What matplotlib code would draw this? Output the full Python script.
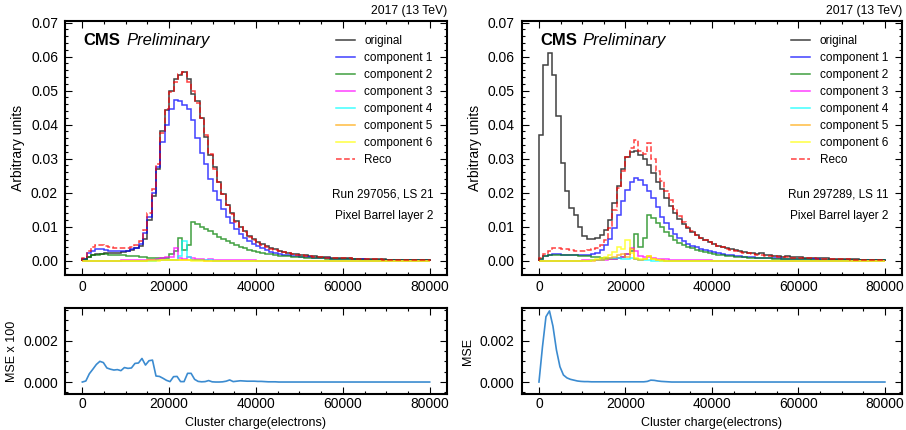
import numpy as np
import matplotlib
matplotlib.use('Agg')
import matplotlib.pyplot as plt
from matplotlib.ticker import AutoMinorLocator, MultipleLocator

plt.rcParams['font.family'] = ['Liberation Sans', 'DejaVu Sans']

# ---- data: 80 bins of 1000 electrons ----
edges = np.arange(0, 80001, 1000)
labels = ['original', 'component 1', 'component 2', 'component 3',
          'component 4', 'component 5', 'component 6', 'Reco']

# Run 297056, LS 21
orig_L = [0.0004, 0.0012, 0.0017, 0.0020, 0.0021, 0.0022, 0.0022, 0.0022, 0.0023, 0.0025,
          0.0028, 0.0032, 0.0036, 0.0042, 0.0065, 0.0120, 0.0190, 0.0270, 0.0380, 0.0443,
          0.0500, 0.0535, 0.0545, 0.0556, 0.0535, 0.0490, 0.0470, 0.0420, 0.0365, 0.0310,
          0.0275, 0.0230, 0.0195, 0.0165, 0.0140, 0.0118, 0.0100, 0.0086, 0.0074, 0.0064,
          0.0055, 0.0048, 0.0042, 0.0037, 0.0033, 0.0029, 0.0026, 0.0023, 0.0021, 0.0019,
          0.0017, 0.0016, 0.0014, 0.0013, 0.0012, 0.0011, 0.0010, 0.0009, 0.0009, 0.0008,
          0.0009, 0.0007, 0.0006, 0.0006, 0.0005, 0.0005, 0.0005, 0.0004, 0.0004, 0.0004,
          0.0003, 0.0003, 0.0003, 0.0003, 0.0003, 0.0002, 0.0002, 0.0002, 0.0002, 0.0002]
comp1_L = [0.0006, 0.0022, 0.0030, 0.0034, 0.0034, 0.0032, 0.0030, 0.0029, 0.0029, 0.0029,
           0.0030, 0.0033, 0.0038, 0.0050, 0.0082, 0.0130, 0.0200, 0.0275, 0.0350, 0.0400,
           0.0445, 0.0472, 0.0470, 0.0458, 0.0445, 0.0415, 0.0360, 0.0318, 0.0285, 0.0240,
           0.0205, 0.0178, 0.0153, 0.0130, 0.0110, 0.0093, 0.0079, 0.0067, 0.0057, 0.0049,
           0.0042, 0.0036, 0.0031, 0.0027, 0.0024, 0.0021, 0.0018, 0.0016, 0.0014, 0.0013,
           0.0012, 0.0011, 0.0010, 0.0009, 0.0008, 0.0008, 0.0007, 0.0006, 0.0006, 0.0005,
           0.0005, 0.0005, 0.0004, 0.0004, 0.0004, 0.0003, 0.0003, 0.0003, 0.0003, 0.0002,
           0.0002, 0.0002, 0.0002, 0.0002, 0.0002, 0.0002, 0.0001, 0.0001, 0.0001, 0.0001]
comp2_L = [0.0003, 0.0012, 0.0016, 0.0018, 0.0019, 0.0019, 0.0018, 0.0018, 0.0017, 0.0016,
           0.0015, 0.0014, 0.0013, 0.0011, 0.0010, 0.0009, 0.0008, 0.0007, 0.0007, 0.0008,
           0.0020, 0.0030, 0.0066, 0.0032, 0.0045, 0.0115, 0.0108, 0.0100, 0.0093, 0.0086,
           0.0078, 0.0071, 0.0064, 0.0057, 0.0051, 0.0045, 0.0040, 0.0036, 0.0032, 0.0029,
           0.0026, 0.0023, 0.0021, 0.0019, 0.0017, 0.0015, 0.0014, 0.0013, 0.0012, 0.0011,
           0.0010, 0.0009, 0.0009, 0.0008, 0.0007, 0.0007, 0.0006, 0.0006, 0.0005, 0.0005,
           0.0005, 0.0004, 0.0004, 0.0004, 0.0003, 0.0003, 0.0003, 0.0003, 0.0002, 0.0002,
           0.0002, 0.0002, 0.0002, 0.0002, 0.0002, 0.0001, 0.0001, 0.0001, 0.0001, 0.0001]
comp3_L = [0.0000, 0.0000, 0.0000, 0.0000, 0.0000, 0.0000, 0.0000, 0.0000, 0.0000, 0.0001,
           0.0001, 0.0002, 0.0002, 0.0001, 0.0001, 0.0002, 0.0003, 0.0005, 0.0008, 0.0012,
           0.0010, 0.0038, 0.0008, 0.0004, 0.0010, 0.0009, 0.0006, 0.0004, 0.0003, 0.0004,
           0.0003, 0.0002, 0.0002, 0.0002, 0.0001, 0.0001, 0.0001, 0.0001, 0.0001, 0.0001,
           0.0000, 0.0000, 0.0000, 0.0000, 0.0000, 0.0000, 0.0000, 0.0000, 0.0000, 0.0000,
           0.0000, 0.0000, 0.0000, 0.0000, 0.0000, 0.0000, 0.0000, 0.0000, 0.0000, 0.0000,
           0.0000, 0.0000, 0.0000, 0.0000, 0.0000, 0.0000, 0.0000, 0.0000, 0.0000, 0.0000,
           0.0000, 0.0000, 0.0000, 0.0000, 0.0000, 0.0000, 0.0000, 0.0000, 0.0000, 0.0000]
comp4_L = [0.0000, 0.0000, 0.0000, 0.0000, 0.0000, 0.0000, 0.0000, 0.0000, 0.0000, 0.0000,
           0.0000, 0.0000, 0.0000, 0.0000, 0.0000, 0.0000, 0.0000, 0.0001, 0.0001, 0.0001,
           0.0002, 0.0003, 0.0015, 0.0058, 0.0010, 0.0003, 0.0002, 0.0001, 0.0001, 0.0001,
           0.0000, 0.0000, 0.0000, 0.0000, 0.0000, 0.0000, 0.0000, 0.0000, 0.0000, 0.0000,
           0.0000, 0.0000, 0.0000, 0.0000, 0.0000, 0.0000, 0.0000, 0.0000, 0.0000, 0.0000,
           0.0000, 0.0000, 0.0000, 0.0000, 0.0000, 0.0000, 0.0000, 0.0000, 0.0000, 0.0000,
           0.0000, 0.0000, 0.0000, 0.0000, 0.0000, 0.0000, 0.0000, 0.0000, 0.0000, 0.0000,
           0.0000, 0.0000, 0.0000, 0.0000, 0.0000, 0.0000, 0.0000, 0.0000, 0.0000, 0.0000]
comp5_L = [0.0000, 0.0000, 0.0000, 0.0000, 0.0000, 0.0000, 0.0000, 0.0000, 0.0000, 0.0000,
           0.0000, 0.0000, 0.0000, 0.0000, 0.0000, 0.0001, 0.0001, 0.0001, 0.0001, 0.0001,
           0.0001, 0.0001, 0.0001, 0.0001, 0.0001, 0.0001, 0.0001, 0.0001, 0.0000, 0.0000,
           0.0000, 0.0000, 0.0000, 0.0000, 0.0000, 0.0000, 0.0000, 0.0000, 0.0000, 0.0000,
           0.0000, 0.0000, 0.0000, 0.0000, 0.0000, 0.0000, 0.0000, 0.0000, 0.0000, 0.0000,
           0.0000, 0.0000, 0.0000, 0.0000, 0.0000, 0.0000, 0.0000, 0.0000, 0.0000, 0.0000,
           0.0000, 0.0000, 0.0000, 0.0000, 0.0000, 0.0000, 0.0000, 0.0000, 0.0000, 0.0000,
           0.0000, 0.0000, 0.0000, 0.0000, 0.0000, 0.0000, 0.0000, 0.0000, 0.0000, 0.0000]
comp6_L = [0.0000, 0.0000, 0.0000, 0.0000, 0.0000, 0.0000, 0.0000, 0.0000, 0.0000, 0.0000,
           0.0000, 0.0000, 0.0000, 0.0000, 0.0000, 0.0000, 0.0000, 0.0000, 0.0001, 0.0001,
           0.0001, 0.0001, 0.0001, 0.0001, 0.0001, 0.0000, 0.0000, 0.0000, 0.0000, 0.0000,
           0.0000, 0.0000, 0.0000, 0.0000, 0.0000, 0.0000, 0.0000, 0.0000, 0.0000, 0.0000,
           0.0000, 0.0000, 0.0000, 0.0000, 0.0000, 0.0000, 0.0000, 0.0000, 0.0000, 0.0000,
           0.0000, 0.0000, 0.0000, 0.0000, 0.0000, 0.0000, 0.0000, 0.0000, 0.0000, 0.0000,
           0.0000, 0.0000, 0.0000, 0.0000, 0.0000, 0.0000, 0.0000, 0.0000, 0.0000, 0.0000,
           0.0000, 0.0000, 0.0000, 0.0000, 0.0000, 0.0000, 0.0000, 0.0000, 0.0000, 0.0000]
reco_L = [0.0008, 0.0030, 0.0040, 0.0045, 0.0046, 0.0043, 0.0040, 0.0038, 0.0037, 0.0037,
          0.0038, 0.0040, 0.0045, 0.0058, 0.0090, 0.0140, 0.0210, 0.0285, 0.0375, 0.0445,
          0.0495, 0.0525, 0.0550, 0.0555, 0.0525, 0.0500, 0.0465, 0.0420, 0.0370, 0.0315,
          0.0270, 0.0232, 0.0195, 0.0163, 0.0138, 0.0115, 0.0098, 0.0083, 0.0071, 0.0061,
          0.0053, 0.0046, 0.0040, 0.0035, 0.0031, 0.0028, 0.0025, 0.0022, 0.0020, 0.0018,
          0.0016, 0.0015, 0.0013, 0.0012, 0.0011, 0.0010, 0.0009, 0.0009, 0.0008, 0.0008,
          0.0007, 0.0007, 0.0006, 0.0006, 0.0005, 0.0005, 0.0004, 0.0004, 0.0004, 0.0003,
          0.0003, 0.0003, 0.0003, 0.0003, 0.0002, 0.0002, 0.0002, 0.0002, 0.0002, 0.0002]

# Run 297289, LS 11
orig_R = [0.0370, 0.0575, 0.0612, 0.0545, 0.0425, 0.0288, 0.0205, 0.0155, 0.0133, 0.0098,
          0.0072, 0.0063, 0.0064, 0.0068, 0.0075, 0.0090, 0.0120, 0.0170, 0.0220, 0.0270,
          0.0305, 0.0320, 0.0322, 0.0312, 0.0300, 0.0280, 0.0258, 0.0232, 0.0210, 0.0185,
          0.0162, 0.0140, 0.0122, 0.0108, 0.0095, 0.0083, 0.0075, 0.0068, 0.0060, 0.0055,
          0.0050, 0.0044, 0.0040, 0.0038, 0.0034, 0.0031, 0.0028, 0.0027, 0.0024, 0.0022,
          0.0020, 0.0022, 0.0017, 0.0016, 0.0015, 0.0014, 0.0012, 0.0013, 0.0011, 0.0010,
          0.0011, 0.0009, 0.0008, 0.0008, 0.0007, 0.0007, 0.0007, 0.0006, 0.0006, 0.0005,
          0.0005, 0.0004, 0.0004, 0.0004, 0.0003, 0.0003, 0.0003, 0.0003, 0.0002, 0.0002]
comp1_R = [0.0005, 0.0014, 0.0018, 0.0019, 0.0019, 0.0018, 0.0018, 0.0017, 0.0017, 0.0017,
           0.0017, 0.0018, 0.0020, 0.0024, 0.0032, 0.0045, 0.0065, 0.0095, 0.0135, 0.0175,
           0.0208, 0.0232, 0.0242, 0.0238, 0.0223, 0.0205, 0.0185, 0.0157, 0.0130, 0.0110,
           0.0092, 0.0080, 0.0068, 0.0058, 0.0050, 0.0044, 0.0039, 0.0035, 0.0031, 0.0028,
           0.0025, 0.0022, 0.0020, 0.0018, 0.0016, 0.0014, 0.0013, 0.0012, 0.0011, 0.0010,
           0.0009, 0.0009, 0.0008, 0.0008, 0.0007, 0.0007, 0.0006, 0.0006, 0.0005, 0.0005,
           0.0005, 0.0004, 0.0004, 0.0004, 0.0004, 0.0003, 0.0003, 0.0003, 0.0003, 0.0002,
           0.0002, 0.0002, 0.0002, 0.0002, 0.0002, 0.0002, 0.0001, 0.0001, 0.0001, 0.0001]
comp2_R = [0.0004, 0.0014, 0.0017, 0.0018, 0.0018, 0.0017, 0.0017, 0.0016, 0.0016, 0.0015,
           0.0015, 0.0014, 0.0012, 0.0010, 0.0008, 0.0007, 0.0006, 0.0006, 0.0008, 0.0012,
           0.0020, 0.0030, 0.0078, 0.0040, 0.0068, 0.0135, 0.0125, 0.0110, 0.0098, 0.0085,
           0.0072, 0.0062, 0.0053, 0.0046, 0.0041, 0.0036, 0.0032, 0.0028, 0.0025, 0.0022,
           0.0020, 0.0018, 0.0016, 0.0015, 0.0013, 0.0012, 0.0011, 0.0010, 0.0009, 0.0009,
           0.0008, 0.0008, 0.0007, 0.0007, 0.0006, 0.0006, 0.0005, 0.0005, 0.0005, 0.0004,
           0.0004, 0.0004, 0.0004, 0.0003, 0.0003, 0.0003, 0.0003, 0.0002, 0.0002, 0.0002,
           0.0002, 0.0002, 0.0002, 0.0002, 0.0001, 0.0001, 0.0001, 0.0001, 0.0001, 0.0001]
comp3_R = [0.0000, 0.0000, 0.0000, 0.0000, 0.0000, 0.0000, 0.0000, 0.0000, 0.0000, 0.0000,
           0.0001, 0.0001, 0.0001, 0.0002, 0.0002, 0.0003, 0.0004, 0.0005, 0.0008, 0.0012,
           0.0020, 0.0038, 0.0030, 0.0015, 0.0010, 0.0012, 0.0008, 0.0006, 0.0005, 0.0004,
           0.0003, 0.0003, 0.0002, 0.0002, 0.0002, 0.0001, 0.0001, 0.0001, 0.0001, 0.0001,
           0.0000, 0.0000, 0.0000, 0.0000, 0.0000, 0.0000, 0.0000, 0.0000, 0.0000, 0.0000,
           0.0000, 0.0000, 0.0000, 0.0000, 0.0000, 0.0000, 0.0000, 0.0000, 0.0000, 0.0000,
           0.0000, 0.0000, 0.0000, 0.0000, 0.0000, 0.0000, 0.0000, 0.0000, 0.0000, 0.0000,
           0.0000, 0.0000, 0.0000, 0.0000, 0.0000, 0.0000, 0.0000, 0.0000, 0.0000, 0.0000]
comp4_R = [0.0000, 0.0000, 0.0000, 0.0000, 0.0000, 0.0000, 0.0000, 0.0000, 0.0000, 0.0000,
           0.0000, 0.0000, 0.0001, 0.0002, 0.0003, 0.0005, 0.0007, 0.0008, 0.0008, 0.0006,
           0.0005, 0.0008, 0.0004, 0.0002, 0.0001, 0.0001, 0.0000, 0.0000, 0.0000, 0.0000,
           0.0000, 0.0000, 0.0000, 0.0000, 0.0000, 0.0000, 0.0000, 0.0000, 0.0000, 0.0000,
           0.0000, 0.0000, 0.0000, 0.0000, 0.0000, 0.0000, 0.0000, 0.0000, 0.0000, 0.0000,
           0.0000, 0.0000, 0.0000, 0.0000, 0.0000, 0.0000, 0.0000, 0.0000, 0.0000, 0.0000,
           0.0000, 0.0000, 0.0000, 0.0000, 0.0000, 0.0000, 0.0000, 0.0000, 0.0000, 0.0000,
           0.0000, 0.0000, 0.0000, 0.0000, 0.0000, 0.0000, 0.0000, 0.0000, 0.0000, 0.0000]
comp5_R = [0.0000, 0.0000, 0.0000, 0.0000, 0.0000, 0.0000, 0.0000, 0.0000, 0.0000, 0.0000,
           0.0000, 0.0000, 0.0000, 0.0001, 0.0002, 0.0004, 0.0008, 0.0012, 0.0018, 0.0020,
           0.0012, 0.0035, 0.0005, 0.0003, 0.0005, 0.0015, 0.0006, 0.0002, 0.0001, 0.0000,
           0.0000, 0.0000, 0.0000, 0.0000, 0.0000, 0.0000, 0.0000, 0.0000, 0.0000, 0.0000,
           0.0000, 0.0000, 0.0000, 0.0000, 0.0000, 0.0000, 0.0000, 0.0000, 0.0000, 0.0000,
           0.0000, 0.0000, 0.0000, 0.0000, 0.0000, 0.0000, 0.0000, 0.0000, 0.0000, 0.0000,
           0.0000, 0.0000, 0.0000, 0.0000, 0.0000, 0.0000, 0.0000, 0.0000, 0.0000, 0.0000,
           0.0000, 0.0000, 0.0000, 0.0000, 0.0000, 0.0000, 0.0000, 0.0000, 0.0000, 0.0000]
comp6_R = [0.0000, 0.0000, 0.0000, 0.0000, 0.0000, 0.0000, 0.0000, 0.0000, 0.0000, 0.0000,
           0.0000, 0.0000, 0.0001, 0.0004, 0.0008, 0.0010, 0.0018, 0.0025, 0.0040, 0.0035,
           0.0062, 0.0022, 0.0008, 0.0005, 0.0005, 0.0015, 0.0004, 0.0001, 0.0000, 0.0000,
           0.0000, 0.0000, 0.0000, 0.0000, 0.0000, 0.0000, 0.0000, 0.0000, 0.0000, 0.0000,
           0.0000, 0.0000, 0.0000, 0.0000, 0.0000, 0.0000, 0.0000, 0.0000, 0.0000, 0.0000,
           0.0000, 0.0000, 0.0000, 0.0000, 0.0000, 0.0000, 0.0000, 0.0000, 0.0000, 0.0000,
           0.0000, 0.0000, 0.0000, 0.0000, 0.0000, 0.0000, 0.0000, 0.0000, 0.0000, 0.0000,
           0.0000, 0.0000, 0.0000, 0.0000, 0.0000, 0.0000, 0.0000, 0.0000, 0.0000, 0.0000]
reco_R = [0.0008, 0.0020, 0.0030, 0.0036, 0.0037, 0.0035, 0.0033, 0.0031, 0.0030, 0.0030,
          0.0030, 0.0031, 0.0033, 0.0037, 0.0046, 0.0062, 0.0095, 0.0150, 0.0215, 0.0265,
          0.0305, 0.0330, 0.0355, 0.0322, 0.0315, 0.0345, 0.0300, 0.0265, 0.0235, 0.0205,
          0.0178, 0.0152, 0.0132, 0.0115, 0.0100, 0.0088, 0.0077, 0.0068, 0.0060, 0.0054,
          0.0048, 0.0043, 0.0039, 0.0035, 0.0032, 0.0029, 0.0026, 0.0024, 0.0022, 0.0020,
          0.0018, 0.0017, 0.0015, 0.0014, 0.0013, 0.0012, 0.0011, 0.0010, 0.0009, 0.0009,
          0.0008, 0.0008, 0.0007, 0.0007, 0.0006, 0.0006, 0.0005, 0.0005, 0.0005, 0.0004,
          0.0004, 0.0004, 0.0003, 0.0003, 0.0003, 0.0003, 0.0002, 0.0002, 0.0002, 0.0002]

# MSE sampled on 100 points over 0..80000
mse_x = np.linspace(0, 80000, 100)
mse_L = [0.0, 0.00005, 0.00040, 0.00062, 0.00085, 0.00100, 0.00094, 0.00068, 0.00062, 0.00058,
         0.00060, 0.00055, 0.00070, 0.00066, 0.00068, 0.00090, 0.00092, 0.00114, 0.00082, 0.00103,
         0.00106, 0.00029, 0.00027, 0.00018, 0.00008, 0.00002, 0.00026, 0.00027, 0.00002, 0.00002,
         0.00042, 0.00042, 0.00013, 0.00003, 0.00001, 0.00002, 0.00007, 0.00001, 0.0, 0.0,
         0.00001, 0.00004, 0.00010, 0.00002, 0.00004, 0.00006, 0.00005, 0.00004, 0.00004, 0.00004,
         0.00003, 0.00003, 0.00002, 0.00001, 0.00001, 0.00001, 0.0, 0.0, 0.0, 0.0,
         0.0, 0.0, 0.0, 0.0, 0.0, 0.0, 0.0, 0.0, 0.0, 0.0,
         0.0, 0.0, 0.0, 0.0, 0.0, 0.0, 0.0, 0.0, 0.0, 0.0,
         0.0, 0.0, 0.0, 0.0, 0.0, 0.0, 0.0, 0.0, 0.0, 0.0,
         0.0, 0.0, 0.0, 0.0, 0.0, 0.0, 0.0, 0.0, 0.0, 0.0]
mse_R = [0.0, 0.00170, 0.00316, 0.00344, 0.00270, 0.00155, 0.00074, 0.00034, 0.00020, 0.00013,
         0.00009, 0.00005, 0.00003, 0.00002, 0.00002, 0.00001, 0.00001, 0.00001, 0.00001, 0.00001,
         0.00001, 0.00001, 0.00001, 0.00001, 0.00001, 0.00001, 0.00001, 0.00001, 0.00001, 0.00001,
         0.00001, 0.00003, 0.00009, 0.00008, 0.00005, 0.00003, 0.00002, 0.00001, 0.0, 0.0,
         0.0, 0.0, 0.0, 0.0, 0.0, 0.0, 0.0, 0.0, 0.0, 0.0,
         0.0, 0.0, 0.0, 0.0, 0.0, 0.0, 0.0, 0.0, 0.0, 0.0,
         0.0, 0.0, 0.0, 0.0, 0.0, 0.0, 0.0, 0.0, 0.0, 0.0,
         0.0, 0.0, 0.0, 0.0, 0.0, 0.0, 0.0, 0.0, 0.0, 0.0,
         0.0, 0.0, 0.0, 0.0, 0.0, 0.0, 0.0, 0.0, 0.0, 0.0,
         0.0, 0.0, 0.0, 0.0, 0.0, 0.0, 0.0, 0.0, 0.0, 0.0]

colors = ['black', 'blue', 'green', 'magenta', 'cyan', 'orange', 'yellow', 'red']


def style(ax):
    ax.tick_params(which='both', direction='in', top=True, right=True, labelsize=10)
    ax.tick_params(which='major', length=4.8, width=0.8)
    ax.tick_params(which='minor', length=2.4, width=0.8)
    ax.tick_params(axis='y', pad=5)
    ax.xaxis.set_major_locator(MultipleLocator(20000))
    ax.xaxis.set_minor_locator(AutoMinorLocator())
    ax.yaxis.set_minor_locator(AutoMinorLocator())
    ax.set_xlim(-4000, 84000)
    for s in ax.spines.values():
        s.set_linewidth(1.5)


def top_panel(ax, series, run):
    for vals, lab, col in zip(series, labels, colors):
        ax.stairs(vals, edges, color=col, lw=1.1, alpha=0.75,
                  ls='--' if lab == 'Reco' else '-', label=lab)
    style(ax)
    ax.yaxis.set_major_locator(MultipleLocator(0.01))
    ax.set_ylim(-0.0042, 0.0705)
    ax.set_ylabel('Arbitrary units', fontsize=10)
    ax.legend(loc='upper right', frameon=False, fontsize=8.5, handlelength=1.65,
              labelspacing=0.42, borderaxespad=0.8)
    ax.text(0.048, 0.905, 'CMS', transform=ax.transAxes, fontsize=12,
            fontweight='bold', va='baseline')
    ax.text(0.161, 0.905, 'Preliminary', transform=ax.transAxes, fontsize=12,
            style='italic', va='baseline')
    ax.text(1.0, 1.014, '2017 (13 TeV)', transform=ax.transAxes, fontsize=8.8,
            ha='right', va='bottom')
    ax.text(0.964, 0.315, run, transform=ax.transAxes, fontsize=8.5,
            ha='right', va='center')
    ax.text(0.964, 0.233, 'Pixel Barrel layer 2', transform=ax.transAxes,
            fontsize=8.5, ha='right', va='center')


def mse_panel(ax, vals, ylab):
    ax.plot(mse_x, vals, color='#3b8bd0', lw=1.2)
    style(ax)
    ax.yaxis.set_major_locator(MultipleLocator(0.002))
    ax.set_ylim(-0.00058, 0.00358)
    ax.tick_params(axis='x', pad=2.5)
    ax.set_ylabel(ylab, fontsize=9)
    ax.set_xlabel('Cluster charge(electrons)', fontsize=9)


fig = plt.figure(figsize=(9.06, 4.30), dpi=100)
axL = fig.add_axes([0.0717, 0.3605, 0.4217, 0.5907])
axR = fig.add_axes([0.5758, 0.3605, 0.4200, 0.5907])
axLb = fig.add_axes([0.0717, 0.0837, 0.4217, 0.2000])
axRb = fig.add_axes([0.5758, 0.0837, 0.4200, 0.2000])

top_panel(axL, [orig_L, comp1_L, comp2_L, comp3_L, comp4_L, comp5_L, comp6_L, reco_L],
          'Run 297056, LS 21')
top_panel(axR, [orig_R, comp1_R, comp2_R, comp3_R, comp4_R, comp5_R, comp6_R, reco_R],
          'Run 297289, LS 11')
mse_panel(axLb, mse_L, 'MSE x 100')
mse_panel(axRb, mse_R, 'MSE')

fig.savefig('out.png', dpi=100)
